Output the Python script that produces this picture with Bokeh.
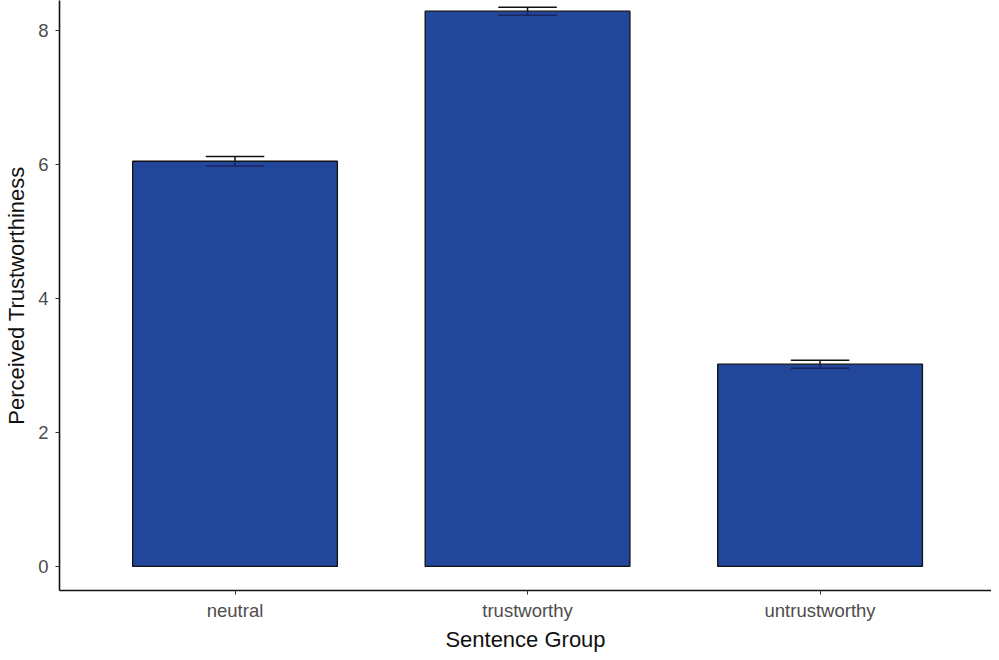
from bokeh.plotting import figure
from bokeh.models import Range1d, FixedTicker, ColumnDataSource
from bokeh.embed import file_html
from bokeh.resources import INLINE

groups = ["neutral", "trustworthy", "untrustworthy"]
means = [6.05, 8.29, 3.02]
ses = [0.07, 0.06, 0.06]
y_ticks = [0, 2, 4, 6, 8]

xs = [i + 1 for i in range(len(groups))]
upper = [m + s for m, s in zip(means, ses)]
lower = [m - s for m, s in zip(means, ses)]
cap_half = 0.1
src = ColumnDataSource(dict(
    x=xs, top=means, up=upper, lo=lower,
    xl=[x - cap_half for x in xs], xr=[x + cap_half for x in xs],
))

p = figure(frame_width=932, frame_height=590, output_backend="svg", toolbar_location=None,
           x_range=Range1d(0.4, 3.586), y_range=Range1d(-0.36, 8.45),
           min_border_left=59, min_border_right=0, min_border_top=0,
           min_border_bottom=0)
p.background_fill_color = "white"
p.border_fill_color = "white"
p.outline_line_color = None
p.xgrid.visible = False
p.ygrid.visible = False

p.vbar(x="x", top="top", bottom=0, width=0.7, source=src,
       fill_color="#22479A", line_color="#111111", line_width=1.3)
# error bars: part above bar top in black, part overlapping the bar darker navy
p.segment(x0="x", y0="top", x1="x", y1="up", source=src, line_color="#111111", line_width=1.5)
p.segment(x0="x", y0="lo", x1="x", y1="top", source=src, line_color="#1C2560", line_width=1.5)
p.segment(x0="xl", y0="up", x1="xr", y1="up", source=src, line_color="#111111", line_width=1.5)
p.segment(x0="xl", y0="lo", x1="xr", y1="lo", source=src, line_color="#1C2560", line_width=1.5)

font = "Liberation Sans"
p.xaxis.ticker = FixedTicker(ticks=xs)
p.xaxis.major_label_overrides = {x: g for x, g in zip(xs, groups)}
p.yaxis.ticker = FixedTicker(ticks=y_ticks)
for ax in (p.xaxis[0], p.yaxis[0]):
    ax.axis_line_color = "#111111"
    ax.axis_line_width = 1.6
    ax.major_tick_line_color = "#333333"
    ax.major_tick_out = 4
    ax.major_tick_in = 0
    ax.minor_tick_line_color = None
    ax.major_label_text_font = font
    ax.major_label_text_font_size = "18.5px"
    ax.major_label_text_color = "#4D4D4D"
    ax.axis_label_text_font = font
    ax.axis_label_text_font_size = "22px"
    ax.axis_label_text_font_style = "normal"
    ax.axis_label_text_color = "#111111"

p.xaxis.axis_label = "Sentence Group"
p.yaxis.axis_label = "Perceived Trustworthiness"
p.xaxis.major_label_standoff = 5
p.xaxis.axis_label_standoff = 3
p.yaxis.major_label_standoff = 7
p.yaxis.axis_label_standoff = 6

open("out.html", "w").write(file_html(p, INLINE))
